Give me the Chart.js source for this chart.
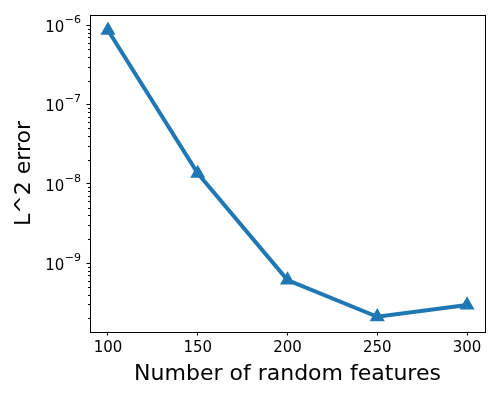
<!DOCTYPE html>
<html>
<head>
<meta charset="utf-8">
<script src="https://cdn.jsdelivr.net/npm/chart.js@4"></script>
<style>
  html, body { margin: 0; padding: 0; background: #fff; }
  #wrap { width: 500px; height: 400px; }
</style>
</head>
<body>
<div id="wrap"><canvas id="errChart" width="500" height="400"></canvas></div>
<script>
// values
var features = [100, 150, 200, 250, 300];
var l2Error = [8.6e-7, 1.35e-8, 6.1e-10, 2.1e-10, 2.95e-10];
var xTicks = [100, 150, 200, 250, 300];
var yTicks = [1e-9, 1e-8, 1e-7, 1e-6];
var yTickExps = ["\u22129", "\u22128", "\u22127", "\u22126"];

var blue = "#1f77b4";

// frame, minor log ticks and 10^n labels (superscript drawn by hand)
var framePlugin = {
    id: "frame",
    afterDraw: function (chart) {
        var ctx = chart.ctx;
        var a = chart.chartArea;
        var y = chart.scales.y;
        ctx.save();
        ctx.strokeStyle = "#000";
        ctx.lineWidth = 1;
        ctx.beginPath();
        for (var e = -11; e <= -6; e++) {
            for (var m = 2; m <= 9; m++) {
                var v = m * Math.pow(10, e);
                if (v < y.min || v > y.max) continue;
                var py = Math.round(y.getPixelForValue(v)) + 0.5;
                ctx.moveTo(a.left, py);
                ctx.lineTo(a.left - 2, py);
            }
        }
        ctx.stroke();
        ctx.strokeRect(Math.round(a.left) + 0.5, Math.round(a.top) + 0.5,
            Math.round(a.right - a.left), Math.round(a.bottom - a.top));

        ctx.fillStyle = "#000";
        ctx.textAlign = "right";
        ctx.textBaseline = "alphabetic";
        var right = a.left - 9;
        yTicks.forEach(function (v, i) {
            var ty = y.getPixelForValue(v);
            ctx.font = "11px 'DejaVu Sans'";
            var w = ctx.measureText(yTickExps[i]).width;
            ctx.fillText(yTickExps[i], right, ty - 2);
            ctx.font = "15px 'DejaVu Sans'";
            ctx.fillText("10", right - w - 0.5, ty + 7);
        });
        ctx.restore();
    }
};

var ctx = document.getElementById("errChart").getContext("2d");
new Chart(ctx, {
    type: "line",
    data: {
        datasets: [{
            data: features.map(function (f, i) { return { x: f, y: l2Error[i] }; }),
            borderColor: blue,
            backgroundColor: blue,
            borderWidth: 4,
            pointStyle: "triangle",
            pointRadius: 8.7,
            pointHoverRadius: 8.7,
            pointBorderWidth: 0,
            tension: 0
        }]
    },
    options: {
        responsive: false,
        animation: false,
        events: [],
        layout: { padding: { top: 15, right: 15, left: 0, bottom: 0 } },
        plugins: {
            legend: { display: false },
            tooltip: { enabled: false }
        },
        scales: {
            x: {
                type: "linear",
                min: 90,
                max: 310,
                afterBuildTicks: function (scale) {
                    scale.ticks = xTicks.map(function (v) { return { value: v }; });
                },
                afterFit: function (scale) { scale.height = 68; },
                grid: { drawOnChartArea: false, drawTicks: true, tickLength: 3.5, color: "#000" },
                border: { display: true, color: "#000" },
                ticks: {
                    color: "#000",
                    padding: 4,
                    maxRotation: 0,
                    font: { family: "DejaVu Sans", size: 15 }
                },
                title: {
                    display: true,
                    text: "Number of random features",
                    color: "#000",
                    padding: { top: 0, bottom: 13 },
                    font: { family: "DejaVu Sans", size: 22 }
                }
            },
            y: {
                type: "logarithmic",
                min: 1.35e-10,
                max: 1.34e-6,
                afterBuildTicks: function (scale) {
                    scale.ticks = yTicks.map(function (v) { return { value: v }; });
                },
                afterFit: function (scale) { scale.width = 90; },
                grid: { drawOnChartArea: false, drawTicks: true, tickLength: 3.5, color: "#000" },
                border: { display: true, color: "#000" },
                ticks: { display: false },
                title: {
                    display: true,
                    text: "L^2 error",
                    color: "#000",
                    padding: { top: 11, bottom: 0 },
                    font: { family: "DejaVu Sans", size: 22 }
                }
            }
        }
    },
    plugins: [framePlugin]
});
</script>
</body>
</html>
